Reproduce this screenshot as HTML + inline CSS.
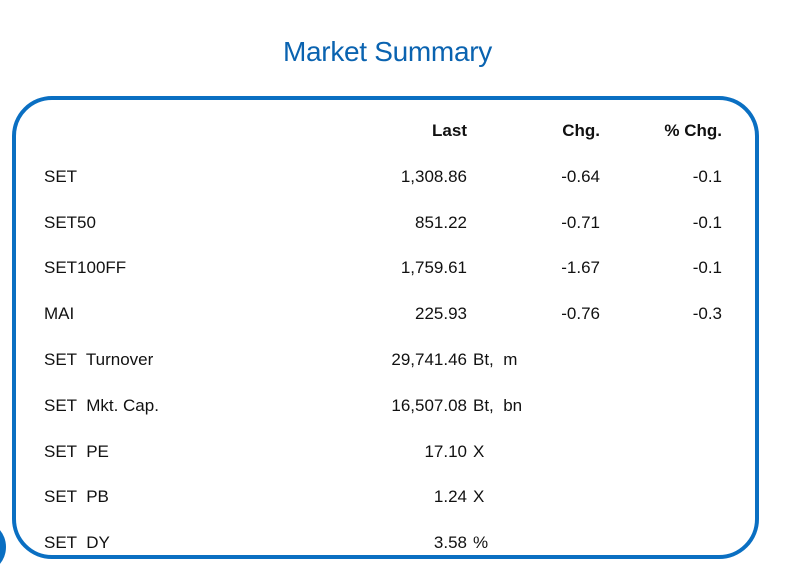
<!DOCTYPE html>
<html><head><style>
body{margin:0;width:792px;height:588px;background:#fff;position:relative;overflow:hidden;font-family:"Liberation Sans",sans-serif;color:#111}
.t{position:absolute;font-size:17px;line-height:20px;white-space:pre}
.r{text-align:right}
</style></head><body>
<div style="position:absolute;left:283px;top:36px;font-size:28px;color:#0a63b0;letter-spacing:-0.3px">Market Summary</div>
<div style="position:absolute;left:12px;top:96px;width:739px;height:455px;border:4px solid #0a6fc2;border-radius:40px"></div>
<div style="position:absolute;left:-40px;top:522px;width:46px;height:50px;border-radius:50%;background:#0a6fc2"></div>
<div id="c"></div>
<script>
var rows=[["","Last","Chg.","% Chg."],["SET","1,308.86","-0.64","-0.1"],["SET50","851.22","-0.71","-0.1"],["SET100FF","1,759.61","-1.67","-0.1"],["MAI","225.93","-0.76","-0.3"],["SET  Turnover","29,741.46","",""],["SET  Mkt. Cap.","16,507.08","",""],["SET  PE","17.10","",""],["SET  PB","1.24","",""],["SET  DY","3.58","",""]];
var suf=["","","","","","Bt,  m","Bt,  bn","X","X","%"];
var h="";
rows.forEach(function(r,i){var y=121+i*45.8;var b=i==0?"font-weight:bold;":"";
h+='<div class="t" style="left:44px;top:'+y+'px">'+r[0]+'</div>';
h+='<div class="t r" style="'+b+'right:'+(792-467)+'px;top:'+y+'px">'+r[1]+'</div>';
h+='<div class="t r" style="'+b+'right:'+(792-600)+'px;top:'+y+'px">'+r[2]+'</div>';
h+='<div class="t r" style="'+b+'right:'+(792-722)+'px;top:'+y+'px">'+r[3]+'</div>';
if(suf[i])h+='<div class="t" style="left:473px;top:'+y+'px">'+suf[i]+'</div>';});
document.getElementById("c").innerHTML=h;
</script>
</body></html>
